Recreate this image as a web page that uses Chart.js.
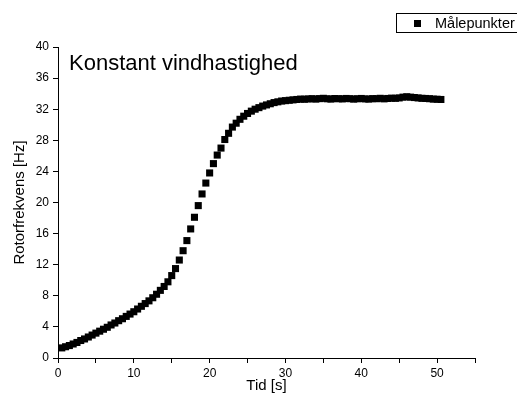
<!DOCTYPE html>
<html lang="da">
<head>
<meta charset="UTF-8">
<title>Konstant vindhastighed</title>
<script src="https://cdn.jsdelivr.net/npm/chart.js@4.4.0/dist/chart.umd.min.js"></script>
<style>
    html, body { margin: 0; padding: 0; background: #fff; }
    #wrap { position: relative; width: 517px; height: 404px; }
</style>
</head>
<body>
<div id="wrap"><canvas id="chart" width="517" height="404"></canvas></div>
<script>
// Målte værdier: tid [s] og rotorfrekvens [Hz]
const tid = [
    0.5, 1.0, 1.5, 2.0, 2.5, 3.0, 3.5, 4.0, 4.5, 5.0,
    5.5, 6.0, 6.5, 7.0, 7.5, 8.0, 8.5, 9.0, 9.5, 10.0,
    10.5, 11.0, 11.5, 12.0, 12.5, 13.0, 13.5, 14.0, 14.5, 15.0,
    15.5, 16.0, 16.5, 17.0, 17.5, 18.0, 18.5, 19.0, 19.5, 20.0,
    20.5, 21.0, 21.5, 22.0, 22.5, 23.0, 23.5, 24.0, 24.5, 25.0,
    25.5, 26.0, 26.5, 27.0, 27.5, 28.0, 28.5, 29.0, 29.5, 30.0,
    30.5, 31.0, 31.5, 32.0, 32.5, 33.0, 33.5, 34.0, 34.5, 35.0,
    35.5, 36.0, 36.5, 37.0, 37.5, 38.0, 38.5, 39.0, 39.5, 40.0,
    40.5, 41.0, 41.5, 42.0, 42.5, 43.0, 43.5, 44.0, 44.5, 45.0,
    45.5, 46.0, 46.5, 47.0, 47.5, 48.0, 48.5, 49.0, 49.5, 50.0,
    50.5
];
const rotorfrekvens = [
    1.30, 1.45, 1.60, 1.80, 2.00, 2.25, 2.45, 2.70, 2.95, 3.20,
    3.45, 3.70, 3.95, 4.25, 4.50, 4.80, 5.05, 5.35, 5.65, 5.95,
    6.30, 6.65, 7.00, 7.35, 7.75, 8.20, 8.70, 9.20, 9.80, 10.60,
    11.50, 12.60, 13.80, 15.10, 16.60, 18.10, 19.60, 21.10, 22.50, 23.80,
    25.00, 26.10, 27.00, 28.10, 28.90, 29.70, 30.20, 30.70, 31.10, 31.45,
    31.75, 32.00, 32.20, 32.40, 32.55, 32.70, 32.85, 32.95, 33.05, 33.10,
    33.15, 33.20, 33.25, 33.30, 33.28, 33.32, 33.35, 33.30, 33.36, 33.40,
    33.34, 33.30, 33.37, 33.35, 33.32, 33.38, 33.35, 33.30, 33.34, 33.38,
    33.32, 33.30, 33.36, 33.35, 33.40, 33.33, 33.38, 33.42, 33.40, 33.45,
    33.55, 33.60, 33.55, 33.50, 33.45, 33.40, 33.38, 33.35, 33.30, 33.28,
    33.25
];
const xTicks = [0, 10, 20, 30, 40, 50];
const yTicks = [0, 4, 8, 12, 16, 20, 24, 28, 32, 36, 40];
const serieNavn = 'Målepunkter';
const overskrift = 'Konstant vindhastighed';

const FONT = "'Liberation Sans', Arial, sans-serif";
Chart.defaults.font.family = FONT;
Chart.defaults.color = '#000';

// overskrift inde i plotområdet og legende med ramme oppe til højre
const tekstPlugin = {
    id: 'tekst',
    afterDraw(chart) {
        const ctx = chart.ctx;
        const a = chart.chartArea;
        ctx.save();
        ctx.fillStyle = '#000';
        ctx.font = '22px ' + FONT;
        ctx.textBaseline = 'alphabetic';
        ctx.textAlign = 'left';
        ctx.fillText(overskrift, a.left + 11, a.top + 23);

        ctx.strokeStyle = '#000';
        ctx.lineWidth = 1;
        ctx.strokeRect(396.5, 13.5, 140, 19);
        ctx.fillRect(414, 20, 7, 7);
        ctx.font = '14.5px ' + FONT;
        ctx.textBaseline = 'middle';
        ctx.fillText(serieNavn, 435, 23.5);
        ctx.restore();
    }
};

const aksel = {
    display: true,
    color: '#000',
    drawOnChartArea: false,
    drawTicks: true,
    tickLength: 5,
    tickColor: '#000',
    lineWidth: 1
};

new Chart(document.getElementById('chart'), {
    type: 'scatter',
    data: {
        datasets: [{
            label: serieNavn,
            data: tid.map((t, i) => ({ x: t, y: rotorfrekvens[i] })),
            pointStyle: 'rect',
            pointRadius: 5,
            pointHoverRadius: 5,
            backgroundColor: '#000',
            borderColor: '#000',
            borderWidth: 0,
            showLine: false
        }]
    },
    options: {
        responsive: false,
        animation: false,
        layout: { padding: { left: 0, top: 47, right: 42, bottom: 0 } },
        plugins: {
            legend: { display: false },
            tooltip: { enabled: false }
        },
        scales: {
            x: {
                type: 'linear',
                min: 0,
                max: 55,
                grid: aksel,
                border: { display: true, color: '#000', width: 1 },
                ticks: {
                    stepSize: 5,
                    maxRotation: 0,
                    padding: 3,
                    font: { size: 12 },
                    callback: v => xTicks.includes(v) ? String(v) : ''
                },
                title: {
                    display: true,
                    text: 'Tid [s]',
                    font: { size: 15 },
                    padding: { top: 4, bottom: 9 }
                },
                afterFit: s => { s.height = 46; }
            },
            y: {
                type: 'linear',
                min: 0,
                max: 40,
                grid: aksel,
                border: { display: true, color: '#000', width: 1 },
                ticks: {
                    stepSize: 2,
                    padding: 4,
                    font: { size: 12 },
                    callback: v => yTicks.includes(v) ? String(v) : ''
                },
                title: {
                    display: true,
                    text: 'Rotorfrekvens [Hz]',
                    font: { size: 15 },
                    padding: { top: 11, bottom: 0 }
                },
                afterFit: s => { s.width = 58; }
            }
        }
    },
    plugins: [tekstPlugin]
});
</script>
</body>
</html>
